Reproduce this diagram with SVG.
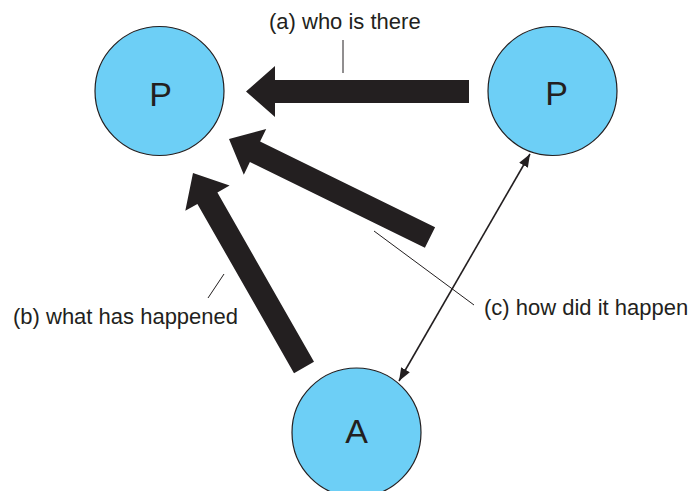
<svg xmlns="http://www.w3.org/2000/svg" width="694" height="491" viewBox="0 0 694 491">
  <style>
    .node { fill: #6dcff6; stroke: #231f20; stroke-width: 1.2; }
    .nlabel { font-family: "Liberation Sans", Arial, sans-serif; font-size: 34px; fill: #231f20; text-anchor: middle; }
    .lbl { font-family: "Liberation Sans", Arial, sans-serif; font-size: 22px; fill: #231f20; }
    .big { fill: #231f20; stroke: none; }
    .leader { stroke: #231f20; stroke-width: 1; fill: none; }
    .dbl { stroke: #231f20; stroke-width: 1.6; fill: none; }
  </style>
  <defs>
    <marker id="ah" markerUnits="userSpaceOnUse" markerWidth="14" markerHeight="10" refX="13" refY="5" orient="auto-start-reverse">
      <path d="M0,0 L13,5 L0,10 Z" fill="#231f20"/>
    </marker>
  </defs>
  <rect width="694" height="491" fill="#ffffff"/>

  <g id="connectors">
    <polygon class="big" points="469,80 275,80 275,66 246,91.5 275,117 275,103 469,103"/>
    <polygon class="big" points="435.1,227.2 260.1,141.5 266.2,128.9 229,139 243.8,174.7 249.9,162.1 424.9,247.8"/>
    <polygon class="big" points="314,361.8 217.4,192.5 229.6,185.6 193,173 185.3,210.8 197.4,203.9 294,373.2"/>
    <line class="dbl" x1="399" y1="381" x2="530" y2="154" marker-start="url(#ah)" marker-end="url(#ah)"/>
    <line class="leader" x1="343" y1="40" x2="343" y2="73"/>
    <line class="leader" x1="224" y1="274" x2="208" y2="298"/>
    <line class="leader" x1="374" y1="231" x2="474" y2="305"/>
  </g>

  <g id="node-p-left">
    <circle class="node" cx="159.5" cy="91" r="64.5"/>
    <text class="nlabel" x="160.5" y="106">P</text>
  </g>
  <g id="node-p-right">
    <circle class="node" cx="552.5" cy="91" r="64.5"/>
    <text class="nlabel" x="556.5" y="105">P</text>
  </g>
  <g id="node-a">
    <circle class="node" cx="356.5" cy="432.5" r="64.5"/>
    <text class="nlabel" x="356.5" y="443">A</text>
  </g>

  <g id="labels">
    <text class="lbl" x="269" y="29">(a) who is there</text>
    <text class="lbl" x="13" y="324">(b) what has happened</text>
    <text class="lbl" x="484" y="315">(c) how did it happen</text>
  </g>
</svg>
